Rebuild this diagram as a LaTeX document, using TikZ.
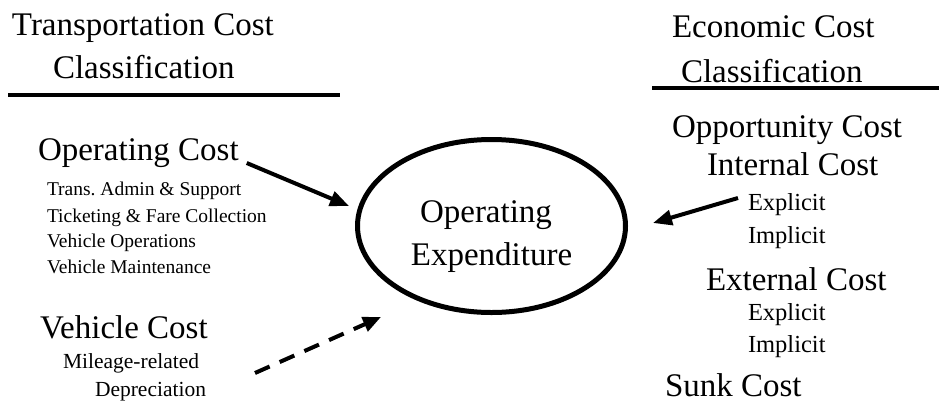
\documentclass[tikz,border=0pt]{standalone}
\usepackage{fontspec}
\setmainfont{Liberation Serif}
\usetikzlibrary{arrows.meta,shapes.geometric}
\frenchspacing
\tikzset{
  txt/.style={anchor=base west, inner sep=0pt, outer sep=0pt},
  big/.style={txt, font=\fontsize{33}{40}\selectfont},
  smallL/.style={txt, font=\fontsize{19.5}{24}\selectfont},
  smallV/.style={txt, font=\fontsize{21.5}{26}\selectfont},
  smallR/.style={txt, font=\fontsize{24.5}{30}\selectfont},
  rule/.style={line width=4pt},
  arr/.style={line width=4pt, -{Triangle[length=19pt,width=15pt]}},
  darr/.style={line width=4pt, dash pattern=on 16pt off 11pt, -{Triangle[length=18pt,width=15pt]}},
}
\begin{document}
\begin{tikzpicture}[x=1pt,y=-1pt]
\useasboundingbox (0,0) rectangle (939,402);
% left heading
\node[big] (lh1) at (12,35) {Transportation Cost};
\node[big] (lh2) at (53,78) {Classification};
\draw[rule] (8,95) -- (340,95);
% right heading
\node[big] (rh1) at (672,37) {Economic Cost};
\node[big] (rh2) at (681,82) {Classification};
\draw[rule] (652,88) -- (939,88);
% left items
\node[big] (opc) at (38,160) {Operating Cost};
\node[smallL] (l1) at (47,195) {Trans. Admin \& Support};
\node[smallL] (l2) at (47,222) {Ticketing \& Fare Collection};
\node[smallL] (l3) at (47,247) {Vehicle Operations};
\node[smallL] (l4) at (47,273) {Vehicle Maintenance};
\node[big] (vc) at (40,338) {Vehicle Cost};
\node[smallV] (v1) at (63,368) {Mileage-related};
\node[smallV] (v2) at (95,396) {Depreciation};
% right items
\node[big] (opp) at (672,137) {Opportunity Cost};
\node[big] (int) at (707,175) {Internal Cost};
\node[smallR] (ex1) at (748,210) {Explicit};
\node[smallR] (im1) at (748,243) {Implicit};
\node[big] (ext) at (706,290) {External Cost};
\node[smallR] (ex2) at (748,320) {Explicit};
\node[smallR] (im2) at (748,352) {Implicit};
\node[big] (snk) at (665,396) {Sunk Cost};
% centre
\node[draw, ellipse, line width=5pt, inner sep=0pt, minimum width=268pt, minimum height=173pt] (ell) at (491.5,226) {};
\node[big, anchor=base] (oe1) at (486,222) {Operating};
\node[big, anchor=base] (oe2) at (491.5,265) {Expenditure};
% arrows
\coordinate (t1) at (349,206);
\coordinate (t2) at (653,223);
\coordinate (d0) at (255,373);
\coordinate (d1) at (381,317);
\draw[arr] ([shift={(8pt,-3pt)}]opc.base east) -- (t1);
\draw[arr] ([shift={(-10pt,12pt)}]ex1.base west) -- (t2);
\draw[darr] (d0) -- (d1);
\end{tikzpicture}
\end{document}
